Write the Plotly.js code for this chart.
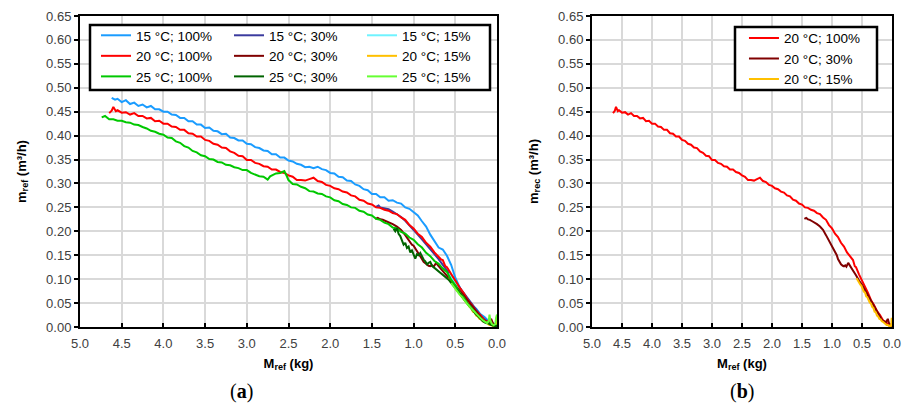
<!DOCTYPE html>
<html>
<head>
<meta charset="utf-8">
<script src="https://cdn.plot.ly/plotly-3.0.1.min.js"></script>
<style>html,body{margin:0;padding:0;background:#fff;}#chart{width:902px;height:403px;}</style>
</head>
<body>
<div id="chart"></div>
<script>
// ---- Data (x = M_ref in kg, y = flow in m3/h) ----
const seriesNames = ["15 °C; 100%", "15 °C; 30%", "15 °C; 15%",
                     "20 °C; 100%", "20 °C; 30%", "20 °C; 15%",
                     "25 °C; 100%", "25 °C; 30%", "25 °C; 15%"];

const m15_100 = [4.62,4.58,4.55,4.50,4.45,4.40,4.35,4.30,4.25,4.20,4.15,4.10,4.05,4.00,3.95,3.90,3.85,3.80,3.75,3.70,3.65,3.60,3.55,3.50,3.45,3.40,3.35,3.30,3.25,3.20,3.15,3.10,3.05,3.00,2.95,2.90,2.85,2.80,2.75,2.70,2.65,2.60,2.55,2.50,2.45,2.40,2.35,2.30,2.25,2.20,2.15,2.10,2.05,2.00,1.95,1.90,1.85,1.80,1.75,1.70,1.65,1.60,1.55,1.50,1.45,1.40,1.35,1.30,1.25,1.20,1.15,1.10,1.05,1.00,0.95,0.90,0.85,0.80,0.75,0.70,0.65,0.60,0.55,0.50,0.45,0.40,0.35,0.30,0.25,0.20,0.15,0.10,0.05,0.00];
const q15_100 = [.479,.475,.477,.470,.474,.466,.469,.462,.465,.459,.462,.455,.455,.450,.450,.444,.443,.437,.437,.430,.430,.423,.423,.416,.417,.410,.409,.403,.404,.396,.395,.390,.390,.383,.382,.376,.374,.369,.368,.361,.361,.354,.354,.348,.346,.341,.339,.334,.335,.332,.335,.330,.328,.322,.321,.314,.313,.306,.305,.298,.295,.288,.286,.278,.278,.271,.271,.264,.265,.260,.258,.250,.247,.239,.233,.221,.210,.193,.180,.166,.162,.149,.130,.103,.084,.067,.057,.045,.038,.027,.021,.012,.008,.004];

const m15_30 = [1.45,1.42,1.40,1.35,1.30,1.25,1.20,1.15,1.10,1.05,1.00,0.95,0.90,0.85,0.80,0.75,0.70,0.65,0.60,0.55,0.50,0.45,0.40,0.35,0.30,0.25,0.20,0.15,0.10,0.05,0.00];
const q15_30 = [.251,.254,.250,.248,.246,.241,.236,.230,.222,.213,.203,.193,.183,.173,.163,.152,.142,.130,.119,.107,.095,.083,.071,.059,.047,.036,.025,.016,.009,.004,.002];

const m15_15 = [0.58,0.55,0.52,0.50,0.47,0.45,0.42,0.40,0.37,0.35,0.32,0.30,0.27,0.25,0.22,0.20,0.17,0.15,0.12,0.10,0.07,0.05,0.02,0.00];
const q15_15 = [.112,.104,.097,.091,.083,.079,.071,.066,.058,.054,.046,.041,.034,.030,.024,.020,.015,.012,.008,.006,.004,.003,.002,.003];

const m20_100 = [4.65,4.62,4.60,4.57,4.55,4.50,4.45,4.40,4.35,4.30,4.25,4.20,4.15,4.10,4.05,4.00,3.95,3.90,3.85,3.80,3.75,3.70,3.65,3.60,3.55,3.50,3.45,3.40,3.35,3.30,3.25,3.20,3.15,3.10,3.05,3.00,2.95,2.90,2.85,2.80,2.75,2.70,2.65,2.60,2.55,2.50,2.45,2.40,2.35,2.30,2.25,2.20,2.15,2.10,2.05,2.00,1.95,1.90,1.85,1.80,1.75,1.70,1.65,1.60,1.55,1.50,1.45,1.40,1.35,1.30,1.25,1.20,1.15,1.10,1.05,1.00,0.95,0.90,0.85,0.80,0.75,0.70,0.67,0.65,0.62,0.60,0.55,0.50,0.45,0.40,0.35,0.30,0.25,0.20,0.15,0.10,0.05,0.00];
const q20_100 = [.447,.452,.460,.451,.453,.448,.449,.444,.447,.441,.441,.436,.437,.430,.431,.425,.425,.419,.418,.412,.412,.405,.404,.398,.398,.391,.389,.383,.381,.375,.374,.367,.364,.358,.357,.349,.349,.343,.341,.336,.335,.329,.329,.324,.322,.317,.314,.307,.307,.306,.309,.312,.305,.303,.297,.295,.290,.288,.283,.281,.275,.273,.266,.264,.258,.256,.250,.249,.245,.243,.238,.236,.229,.224,.213,.206,.195,.188,.176,.168,.156,.147,.141,.140,.127,.125,.110,.098,.083,.071,.056,.046,.033,.025,.014,.010,.004,.002];

const m20_30 = [1.46,1.43,1.40,1.37,1.33,1.30,1.25,1.20,1.15,1.10,1.05,1.02,1.00,0.97,0.95,0.92,0.90,0.88,0.85,0.82,0.80,0.78,0.76,0.73,0.70,0.67,0.64,0.60,0.57,0.55,0.50,0.45,0.40,0.35,0.30,0.25,0.20,0.17,0.14,0.10,0.07,0.05,0.02,0.00];
const q20_30 = [.226,.228,.225,.224,.221,.219,.215,.210,.203,.192,.180,.172,.170,.162,.158,.150,.142,.136,.131,.128,.127,.129,.126,.134,.127,.121,.116,.108,.101,.097,.088,.077,.066,.055,.044,.033,.020,.015,.012,.010,.017,.008,.003,.002];

const m20_15 = [0.59,0.57,0.55,0.53,0.51,0.49,0.47,0.45,0.43,0.41,0.39,0.37,0.35,0.33,0.31,0.29,0.27,0.25,0.23,0.21,0.19,0.17,0.15,0.13,0.11,0.09,0.07,0.05,0.03,0.02,0.01,0.005,0.00];
const q20_15 = [.102,.097,.094,.089,.086,.078,.074,.072,.064,.062,.056,.051,.049,.042,.040,.032,.031,.024,.022,.017,.016,.012,.011,.008,.007,.004,.004,.002,.003,.001,.008,.019,.012];

const m25_100 = [4.74,4.70,4.65,4.60,4.55,4.50,4.45,4.40,4.35,4.30,4.25,4.20,4.15,4.10,4.05,4.00,3.95,3.90,3.85,3.80,3.75,3.70,3.65,3.60,3.55,3.50,3.45,3.40,3.35,3.30,3.25,3.20,3.15,3.10,3.05,3.00,2.95,2.90,2.85,2.80,2.75,2.72,2.70,2.65,2.60,2.55,2.52,2.50,2.45,2.40,2.35,2.30,2.25,2.20,2.15,2.10,2.05,2.00,1.95,1.90,1.85,1.80,1.75,1.70,1.65,1.60,1.55,1.50,1.45,1.40,1.35,1.30,1.25,1.20,1.15,1.10,1.05,1.00,0.95,0.90,0.85,0.80,0.75,0.70,0.65,0.60,0.55,0.50,0.45,0.40,0.35,0.30,0.25,0.20,0.15,0.10,0.05,0.00];
const q25_100 = [.438,.441,.434,.434,.431,.431,.428,.427,.423,.422,.418,.415,.410,.408,.404,.402,.396,.395,.388,.385,.378,.375,.368,.365,.359,.357,.351,.350,.345,.344,.339,.338,.334,.332,.328,.328,.322,.319,.315,.314,.308,.315,.317,.321,.322,.326,.315,.307,.299,.298,.293,.290,.284,.283,.279,.278,.273,.271,.265,.263,.257,.255,.250,.249,.243,.241,.235,.233,.226,.224,.218,.215,.208,.206,.199,.195,.187,.182,.173,.166,.155,.148,.138,.132,.122,.115,.099,.087,.072,.062,.048,.039,.027,.020,.011,.008,.003,.003];

const m25_30 = [1.24,1.22,1.20,1.18,1.16,1.14,1.12,1.10,1.08,1.06,1.04,1.02,1.00,0.98,0.96,0.94,0.92,0.90,0.88,0.86,0.84,0.82,0.80,0.78,0.76,0.74,0.72,0.70,0.67,0.64,0.61,0.58,0.55,0.52,0.50,0.47,0.44,0.41,0.38,0.35,0.32,0.29,0.26,0.23,0.20,0.17,0.14,0.11,0.08,0.05,0.02,0.00];
const q25_30 = [.205,.200,.207,.195,.190,.180,.172,.176,.165,.168,.156,.160,.150,.143,.152,.150,.155,.146,.141,.137,.131,.134,.136,.128,.125,.122,.120,.117,.112,.108,.104,.099,.092,.086,.082,.075,.069,.061,.055,.048,.041,.035,.028,.022,.017,.012,.009,.008,.005,.003,.002,.002];

const m25_15 = [0.55,0.52,0.50,0.47,0.45,0.42,0.40,0.37,0.35,0.32,0.30,0.27,0.25,0.22,0.20,0.17,0.15,0.12,0.10,0.09,0.08,0.06,0.04,0.02,0.01,0.00];
const q25_15 = [.092,.085,.079,.074,.068,.063,.058,.052,.047,.041,.037,.031,.027,.022,.019,.014,.011,.008,.012,.026,.014,.006,.004,.006,.020,.026];

const xTickVals = [5.0,4.5,4.0,3.5,3.0,2.5,2.0,1.5,1.0,0.5,0.0];
const yTickVals = [0,0.05,0.10,0.15,0.20,0.25,0.30,0.35,0.40,0.45,0.50,0.55,0.60,0.65];

// ---- styling ----
const colors = ["#1a9cff", "#3b3b9e", "#6ff3ff",
                "#ff0000", "#800000", "#ffc000",
                "#00c800", "#006400", "#66ff33"];
const FONT = "Arial, 'Liberation Sans', sans-serif";

const xs = [m15_100, m15_30, m15_15, m20_100, m20_30, m20_15, m25_100, m25_30, m25_15];
const ys = [q15_100, q15_30, q15_15, q20_100, q20_30, q20_15, q25_100, q25_30, q25_15];
const legendCols = ["legend", "legend2", "legend3"];

const traces = [];
for (let i = 0; i < 9; i++) {
  traces.push({
    type: "scatter", mode: "lines",
    x: xs[i], y: ys[i], name: seriesNames[i],
    line: {color: colors[i], width: 2},
    xaxis: "x", yaxis: "y",
    legend: legendCols[i % 3], legendgroup: "a" + i
  });
}
// panel (b): 20 °C series
for (const i of [3, 4, 5]) {
  traces.push({
    type: "scatter", mode: "lines",
    x: xs[i], y: ys[i], name: seriesNames[i],
    line: {color: colors[i], width: 2},
    xaxis: "x2", yaxis: "y2",
    legend: "legend4", legendgroup: "b" + i
  });
}

// plot area: l=80, r=10, t=16, b=76  -> 812 x 311 px
function xAxis(domain) {
  return {
    domain: domain, range: [5, 0], autorange: false,
    tickvals: xTickVals, tickformat: ".1f",
    showgrid: true, gridcolor: "#d9d9d9", gridwidth: 2,
    zeroline: false, showline: true, linecolor: "#000", linewidth: 2, mirror: true,
    ticks: "inside", ticklen: 4, tickwidth: 1.5, tickcolor: "#000",
    ticklabelstandoff: 3,
    tickfont: {family: FONT, size: 13, color: "#404040"},
    title: {text: "<b>M<sub>ref</sub> (kg)</b>", font: {family: FONT, size: 13, color: "#000"}, standoff: 9}
  };
}
function yAxis(anchor, label) {
  return {
    domain: [0, 1], range: [0, 0.65], autorange: false, anchor: anchor,
    tickvals: yTickVals, tickformat: ".2f",
    showgrid: true, gridcolor: "#d9d9d9", gridwidth: 2,
    zeroline: false, showline: true, linecolor: "#000", linewidth: 2, mirror: true,
    ticks: "outside", ticklen: 4, tickwidth: 1.5, tickcolor: "#000",
    tickfont: {family: FONT, size: 13, color: "#404040"},
    title: {text: label, font: {family: FONT, size: 13, color: "#000"}, standoff: 17}
  };
}

const legFont = {family: FONT, size: 13.5, color: "#000"};
function leg(x, y, gap) {
  return {x: x, y: y, xanchor: "left", yanchor: "top", orientation: "v",
          bgcolor: "rgba(0,0,0,0)", borderwidth: 0, font: legFont,
          tracegroupgap: gap, itemwidth: 30, traceorder: "normal"};
}

const layout = {
  width: 902, height: 403,
  margin: {l: 80, r: 10, t: 16, b: 76},
  paper_bgcolor: "#fff", plot_bgcolor: "#fff",
  showlegend: true,
  xaxis: xAxis([0, 0.51355]),
  yaxis: yAxis("x", "<b>m<sub>ref</sub> (m³/h)</b>"),
  xaxis2: Object.assign(xAxis([0.63054, 1.0]), {anchor: "y2"}),
  yaxis2: yAxis("x2", "<b>m<sub>rec</sub> (m³/h)</b>"),
  legend: leg(0.0197, 0.9871, 1.5),
  legend2: leg(0.1835, 0.9871, 1.5),
  legend3: leg(0.3473, 0.9871, 1.5),
  legend4: leg(0.8177, 0.9785, 0),
  shapes: [
    {type: "rect", xref: "paper", yref: "paper", x0: 0.01232, x1: 0.50493, y0: 0.76206, y1: 0.97106,
     fillcolor: "#fff", line: {color: "#000", width: 2.5}, layer: "above"},
    {type: "rect", xref: "paper", yref: "paper", x0: 0.80665, x1: 0.98153, y0: 0.76206, y1: 0.96463,
     fillcolor: "#fff", line: {color: "#000", width: 2.5}, layer: "above"}
  ],
  annotations: [
    {text: "(<b>a</b>)", xref: "paper", yref: "paper", x: 0.19828, y: -0.209, showarrow: false,
     xanchor: "center", yanchor: "middle", font: {family: "'Liberation Serif', serif", size: 20, color: "#000"}},
    {text: "(<b>b</b>)", xref: "paper", yref: "paper", x: 0.81527, y: -0.209, showarrow: false,
     xanchor: "center", yanchor: "middle", font: {family: "'Liberation Serif', serif", size: 20, color: "#000"}}
  ]
};

Plotly.newPlot("chart", traces, layout, {displayModeBar: false, responsive: false});
</script>
</body>
</html>
